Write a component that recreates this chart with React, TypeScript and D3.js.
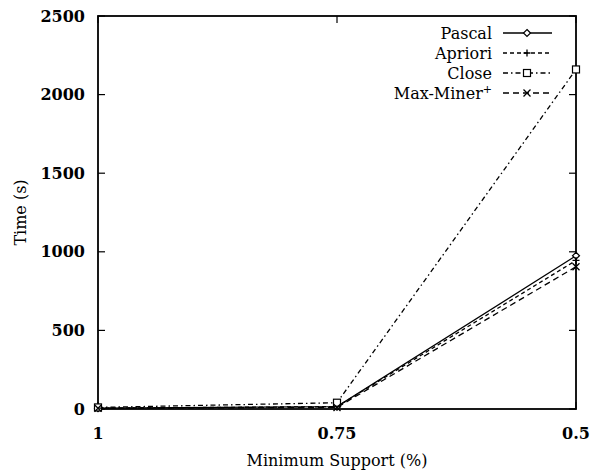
import React from "react";
import * as d3 from "d3";

const supports = [1, 0.75, 0.5];
const xTickLabels = ["1", "0.75", "0.5"];
const yTicks = [0, 500, 1000, 1500, 2000, 2500];
const pascal = [5, 15, 975];
const apriori = [5, 15, 945];
const close = [10, 40, 2160];
const maxMiner = [5, 10, 905];

const seriesNames = ["Pascal", "Apriori", "Close", "Max-Miner"];
const seriesValues = [pascal, apriori, close, maxMiner];
const dashes = ["none", "4,3", "5,3,1.5,3", "6,4"];
const markers = ["diamond", "plus", "square", "cross"];

const W = 592, H = 473;
const M = { left: 98, right: 576, top: 16, bottom: 409 };
const FONT = "\"DejaVu Serif\", \"Liberation Serif\", serif";

function Marker({ type, x, y }: { type: string; x: number; y: number }) {
  const s = 3.5;
  if (type === "diamond")
    return <path d={`M${x},${y - s}L${x + s},${y}L${x},${y + s}L${x - s},${y}Z`} fill="white" stroke="black" strokeWidth={1.2} />;
  if (type === "plus")
    return <path d={`M${x - s},${y}H${x + s}M${x},${y - s}V${y + s}`} stroke="black" strokeWidth={1.3} />;
  if (type === "square")
    return <rect x={x - s} y={y - s} width={2 * s} height={2 * s} fill="white" stroke="black" strokeWidth={1.2} />;
  return <path d={`M${x - s},${y - s}L${x + s},${y + s}M${x - s},${y + s}L${x + s},${y - s}`} stroke="black" strokeWidth={1.3} />;
}

export default function App() {
  const x = d3.scalePoint<number>().domain(supports).range([M.left, M.right]);
  const y = d3.scaleLinear().domain([0, 2500]).range([M.bottom, M.top]);
  const line = d3.line<number>().x((_, i) => x(supports[i])!).y((d) => y(d));
  const ts = { fontFamily: FONT };

  const legendY = [33, 53, 73, 93];
  return (
    <svg width={W} height={H} style={{ position: "absolute", left: 0, top: 0, fontFamily: FONT }}>
      <rect width={W} height={H} fill="white" />
      <rect x={M.left} y={M.top} width={M.right - M.left} height={M.bottom - M.top} fill="none" stroke="black" strokeWidth={1.8} />
      {yTicks.map((t) => (
        <g key={t}>
          <line x1={M.left} x2={M.left + 7} y1={y(t)} y2={y(t)} stroke="black" strokeWidth={1.2} />
          <line x1={M.right} x2={M.right - 7} y1={y(t)} y2={y(t)} stroke="black" strokeWidth={1.2} />
          <text style={ts} x={M.left - 13} y={y(t)} dy="0.35em" textAnchor="end" fontSize={16} fontWeight="bold">{t}</text>
        </g>
      ))}
      {supports.map((s, i) => (
        <g key={s}>
          <line x1={x(s)} x2={x(s)} y1={M.bottom} y2={M.bottom - 7} stroke="black" strokeWidth={1.2} />
          <line x1={x(s)} x2={x(s)} y1={M.top} y2={M.top + 7} stroke="black" strokeWidth={1.2} />
          <text style={ts} x={x(s)} y={M.bottom + 30} textAnchor="middle" fontSize={16} fontWeight="bold">{xTickLabels[i]}</text>
        </g>
      ))}
      <text style={ts} x={(M.left + M.right) / 2} y={466} textAnchor="middle" fontSize={16}>Minimum Support (%)</text>
      <text style={ts} transform={`translate(26,${(M.top + M.bottom) / 2}) rotate(-90)`} textAnchor="middle" fontSize={16}>Time (s)</text>
      {seriesValues.map((vals, k) => (
        <g key={seriesNames[k]}>
          <path d={line(vals)!} fill="none" stroke="black" strokeWidth={1.3} strokeDasharray={dashes[k]} />
          {vals.map((v, i) => (
            <Marker key={i} type={markers[k]} x={x(supports[i])!} y={y(v)} />
          ))}
        </g>
      ))}
      {seriesNames.map((n, k) => (
        <g key={n}>
          <text style={ts} x={492} y={legendY[k] + 6} textAnchor="end" fontSize={16}>
            {n}
            {k === 3 ? <tspan baselineShift="super" fontSize={11}>+</tspan> : null}
          </text>
          <line x1={503} x2={552} y1={legendY[k]} y2={legendY[k]} stroke="black" strokeWidth={1.3} strokeDasharray={dashes[k]} />
          <Marker type={markers[k]} x={527} y={legendY[k]} />
        </g>
      ))}
    </svg>
  );
}
